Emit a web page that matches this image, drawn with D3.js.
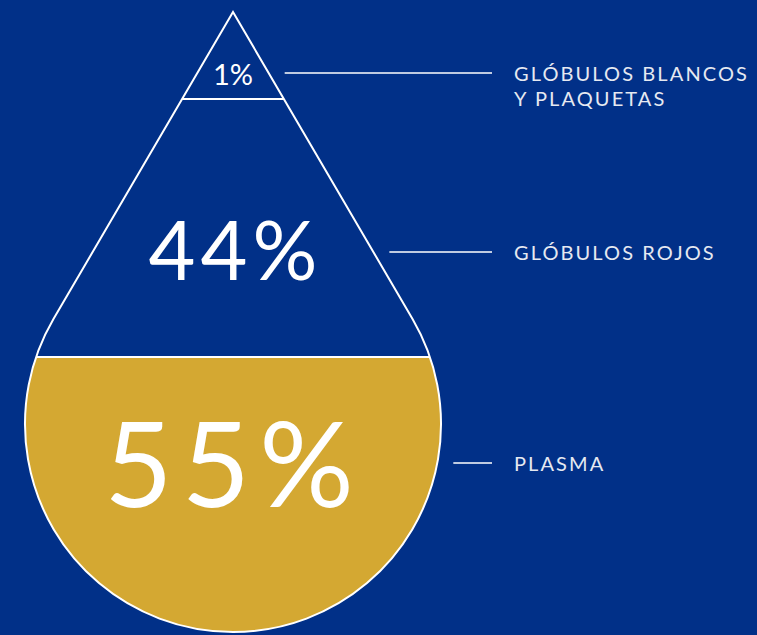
<!DOCTYPE html>
<html>
<head>
<meta charset="utf-8">
<script src="https://cdn.jsdelivr.net/npm/d3@7"></script>
<style>
  html, body { margin: 0; padding: 0; background: #013088; }
  svg { display: block; }
</style>
</head>
<body>
<div id="chart"></div>
<script>
// composition of blood, top to bottom of the drop
const partNames = ['GLÓBULOS BLANCOS\nY PLAQUETAS', 'GLÓBULOS ROJOS', 'PLASMA'];
const partValues = [1, 44, 55];
const partFills = ['none', 'none', '#d4a832'];

const W = 757, H = 635,
	bg = '#013088',
	cx = 233, apexY = 12, r = 208, cy = 424;

// drop height is not linear in percent, so piecewise scale for the boundaries
let cum = [0];
partValues.forEach(function(v){ cum.push(cum[cum.length - 1] + v); });
const scaleY = d3.scaleLinear().domain(cum).range([apexY, 99, 357, cy + r]);

// label anchor heights for each part (layout)
const labelY = [73, 252, 463];
const pctBaseline = [85, 280, 507];
const pctSize = [29, 81, 118];
const pctSpacing = [0, 5, 9];

const svg = d3.select('#chart').append('svg').attr('width', W).attr('height', H);
svg.append('rect').attr('width', W).attr('height', H).attr('fill', bg);

// tangent geometry
const d = cy - apexY,
	tY = cy - r * r / d,
	tX = Math.sqrt(r * r - (cy - tY) * (cy - tY)),
	slope = tX / (tY - apexY);

function halfWidth(y){
	if(y <= tY) return (y - apexY) * slope;
	return Math.sqrt(Math.max(0, r * r - (y - cy) * (y - cy)));
}

// yellow plasma segment (below second boundary)
const yP = scaleY(cum[2]), hwP = halfWidth(yP);
const seg = d3.path();
seg.moveTo(cx - hwP, yP);
seg.arc(cx, cy, r, Math.atan2(yP - cy, -hwP), Math.atan2(yP - cy, hwP), true);
seg.closePath();
svg.append('path').attr('d', seg.toString()).attr('fill', partFills[2]);

// drop outline
const a0 = Math.atan2(tY - cy, -tX), a1 = Math.atan2(tY - cy, tX);
const drop = d3.path();
drop.moveTo(cx, apexY);
drop.lineTo(cx - tX, tY);
drop.arc(cx, cy, r, a0, a1, true);
drop.closePath();
svg.append('path').attr('d', drop.toString())
	.attr('fill', 'none').attr('stroke', '#ffffff').attr('stroke-width', 2);

// boundaries
cum.slice(1, -1).forEach(function(c){
	let y = scaleY(c), hw = halfWidth(y);
	svg.append('line')
		.attr('x1', cx - hw).attr('x2', cx + hw)
		.attr('y1', y).attr('y2', y)
		.attr('stroke', '#ffffff').attr('stroke-width', 2);
});

// percentages
partValues.forEach(function(v, i){
	svg.append('text')
		.attr('x', cx + pctSpacing[i] / 2 - (i == 2 ? 4 : 0)).attr('y', pctBaseline[i])
		.attr('text-anchor', 'middle')
		.style('font-family', 'Lato, "Open Sans", sans-serif')
		.style('font-weight', 400)
		.style('font-size', pctSize[i] + 'px')
		.style('letter-spacing', pctSpacing[i] + 'px')
		.attr('fill', '#ffffff')
		.text(v + '%');
});

// labels + connectors
const lineEnd = 492, textX = 514;
partNames.forEach(function(n, i){
	let y = labelY[i];
	svg.append('line')
		.attr('x1', cx + halfWidth(y) + 16).attr('x2', lineEnd)
		.attr('y1', y).attr('y2', y)
		.attr('stroke', '#ffffff').attr('stroke-width', 1.5);
	let t = svg.append('text')
		.attr('x', textX).attr('y', y + 8)
		.style('font-family', 'Lato, "Open Sans", sans-serif')
		.style('font-size', '20px')
		.style('letter-spacing', '2.1px')
		.attr('fill', '#e6e9f1');
	n.split('\n').forEach(function(line, li){
		t.append('tspan').attr('x', textX).attr('dy', li ? 25 : 0).text(line);
	});
});
</script>
</body>
</html>
